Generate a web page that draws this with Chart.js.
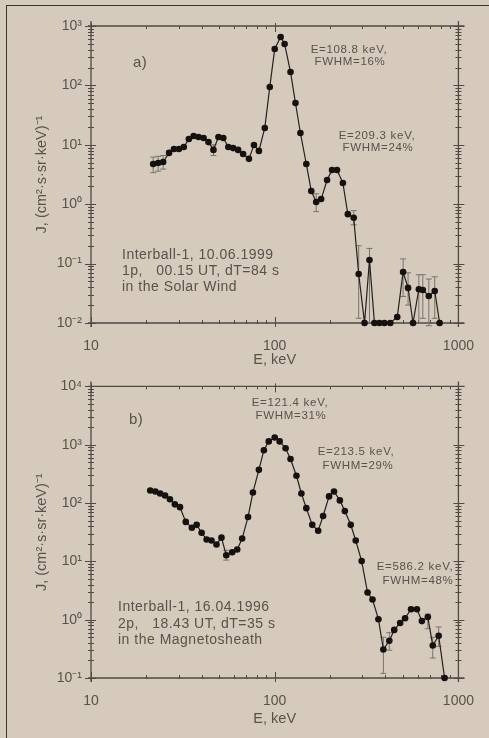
<!DOCTYPE html>
<html><head><meta charset="utf-8">
<script src="https://cdn.jsdelivr.net/npm/chart.js@4"></script>
<style>
html,body{margin:0;padding:0;background:#d6cabc;}
#wrap{position:relative;width:489px;height:738px;overflow:hidden;background:#d6cabc;}
#frame{position:absolute;left:6px;top:5px;width:600px;height:900px;border-left:1.5px solid #38342f;border-top:1.5px solid #38342f;}
canvas{position:absolute;left:0;}
</style></head><body>
<div id="wrap"><div id="frame"></div>
<canvas id="c1" width="489" height="369" style="top:0"></canvas>
<canvas id="c2" width="489" height="369" style="top:369px"></canvas>
</div>
<script>
// ---- Panel a) data ----
const energyA = [21.8,23.2,24.7,26.6,28.3,30.1,32.0,34.1,36.2,38.5,41.0,43.6,46.4,49.4,52.5,55.9,59.4,63.2,67.3,72.4,77.1,82.0,88.3,94.0,100,107.7,113.2,121.9,129.7,138.0,148.6,158.1,168.2,179.0,192.8,205.1,218.3,235.1,250.1,269.2,286.4,308.3,328.0,349.0,371.3,395.3,425.6,464.5,500,532,566,609,640,690,743,790];
const fluxA = [4.75,4.94,5.13,7.3,8.5,8.5,9.2,12.5,14.1,13.5,13.0,11.1,8.2,13.5,13.0,9.2,8.8,8.2,7.0,5.8,9.9,7.9,19.2,94,410,653,498,168,50.6,15.8,4.75,1.67,1.09,1.22,2.55,3.77,3.77,2.27,0.68,0.59,0.067,0.01,0.115,0.01,0.01,0.01,0.01,0.0126,0.072,0.039,0.01,0.037,0.036,0.0285,0.0346,0.01];
const errIdxA = [0,1,2,12,32,39,40,42,48,49,51,52,53,54];
const errLoA = [3.4,3.6,3.9,6.6,0.75,0.45,0.012,0.01,0.028,0.02,0.01,0.012,0.009,0.012];
const errHiA = [6.2,6.4,6.6,10,1.5,0.78,0.2,0.18,0.12,0.07,0.065,0.065,0.055,0.06];

// ---- Panel b) data ----
const energyB = [21.0,22.4,23.8,25.3,26.9,28.6,30.5,32.8,35.4,37.6,40.0,42.6,45.3,48.2,51.3,54.5,58.7,62.5,66.5,71.6,76.1,82.0,87.3,92.8,100,106.4,114.6,121.9,131.3,139.7,148.6,160.1,172.4,183.4,197.6,210.2,226.3,240.8,259.4,276.0,297.3,320.2,340.7,366.9,390.3,420.5,447.3,481.7,512.5,552.1,594.6,632.6,681.4,724.9,780.6,840.8];
const fluxB = [164,158,146,135,116,95,85,47.5,37.7,42.3,31.0,23.7,22.8,19.5,25.5,12.7,14.3,16.0,24.6,57.7,152,371,805,1140,1333,1140,869,568,294,146,81.7,42.3,33.5,60,130,158,111,72.8,42.3,22.8,10.1,2.92,2.22,1.02,0.308,0.436,0.668,0.877,1.06,1.51,1.51,0.946,1.11,0.36,0.53,0.1];
const errIdxB = [15,44,45,52,53,54];
const errLoB = [10.5,0.12,0.3,0.7,0.22,0.35];
const errHiB = [15.5,0.5,0.6,1.25,0.5,0.75];

// ---- axis / labels ----
const xRange = [10, 1000];
const yRangeA = [0.01, 1000];
const yRangeB = [0.1, 10000];
const xTitle = 'E, keV';
const yTitle = 'J, (cm²·s·sr·keV)⁻¹';
const notesA = [
  {t:'a)', x:133, y:63, size:15, align:'left'},
  {t:'E=108.8 keV,', x:349, y:50, size:11.5, align:'center'},
  {t:'FWHM=16%', x:350, y:62, size:11.5, align:'center'},
  {t:'E=209.3 keV,', x:377, y:136, size:11.5, align:'center'},
  {t:'FWHM=24%', x:378, y:148, size:11.5, align:'center'},
  {t:'Interball-1, 10.06.1999', x:122, y:255, size:14, align:'left'},
  {t:'1p,   00.15 UT, dT=84 s', x:122, y:271, size:14, align:'left'},
  {t:'in the Solar Wind', x:122, y:287, size:14, align:'left'}
];
const notesB = [
  {t:'b)', x:129, y:51, size:15, align:'left'},
  {t:'E=121.4 keV,', x:290, y:34, size:11.5, align:'center'},
  {t:'FWHM=31%', x:291, y:47, size:11.5, align:'center'},
  {t:'E=213.5 keV,', x:356, y:83, size:11.5, align:'center'},
  {t:'FWHM=29%', x:358, y:97, size:11.5, align:'center'},
  {t:'E=586.2 keV,', x:415, y:198, size:11.5, align:'center'},
  {t:'FWHM=48%', x:418, y:212, size:11.5, align:'center'},
  {t:'Interball-1, 16.04.1996', x:118, y:238, size:14, align:'left'},
  {t:'2p,   18.43 UT, dT=35 s', x:118, y:255, size:14, align:'left'},
  {t:'in the Magnetosheath', x:118, y:271, size:14, align:'left'}
];

const TXT = '#58524c';
const AXC = '#4f4a45';
const FONT = '"Liberation Sans", Arial, sans-serif';
const SUP = {'-':'⁻','0':'⁰','1':'¹','2':'²','3':'³','4':'⁴','5':'⁵','6':'⁶','7':'⁷','8':'⁸','9':'⁹'};

function isPow10(v){ const l = Math.log10(v); return Math.abs(l - Math.round(l)) < 1e-9; }
function pow10Label(v){ const e = String(Math.round(Math.log10(v))); return '10' + e.split('').map(c=>SUP[c]).join(''); }
function logTicks(min, max){
  const out = [];
  const e0 = Math.round(Math.log10(min)), e1 = Math.round(Math.log10(max));
  for (let e = e0; e < e1; e++) for (let k = 1; k <= 9; k++) out.push(parseFloat((k*Math.pow(10,e)).toPrecision(6)));
  out.push(max);
  return out;
}

function framePlugin(errIdx, errLo, errHi, energies){
  return {
    id:'frame',
    beforeDatasetsDraw(chart){
      const {ctx, chartArea:a, scales:{x, y}} = chart;
      ctx.save();
      ctx.strokeStyle = AXC; ctx.lineWidth = 1.3;
      ctx.beginPath();
      ctx.moveTo(a.left-3, a.top); ctx.lineTo(a.right+6, a.top);
      ctx.moveTo(a.left-3, a.bottom); ctx.lineTo(a.right+6, a.bottom);
      ctx.moveTo(a.left, a.top-5); ctx.lineTo(a.left, a.bottom+4);
      ctx.moveTo(a.right, a.top-5); ctx.lineTo(a.right, a.bottom+4);
      ctx.stroke();
      ctx.lineWidth = 1;
      ctx.beginPath();
      x.ticks.forEach(t => {
        const p = Math.round(x.getPixelForValue(t.value)) + 0.5;
        const maj = isPow10(t.value);
        const L = maj ? 6 : 3;
        ctx.moveTo(p, a.bottom - L); ctx.lineTo(p, a.bottom + (maj ? 4 : 1));
        ctx.moveTo(p, a.top - (maj ? 3 : 0)); ctx.lineTo(p, a.top + L);
      });
      y.ticks.forEach(t => {
        const p = Math.round(y.getPixelForValue(t.value)) + 0.5;
        const maj = isPow10(t.value);
        const Lo = maj ? 6 : 3, Li = maj ? 5 : 3;
        ctx.moveTo(a.left - Lo, p); ctx.lineTo(a.left + Li, p);
        ctx.moveTo(a.right - Li, p); ctx.lineTo(a.right + Lo, p);
      });
      ctx.stroke();
      // error bars
      ctx.strokeStyle = '#7a736c'; ctx.lineWidth = 1;
      ctx.beginPath();
      errIdx.forEach((i, k) => {
        const px = x.getPixelForValue(energies[i]);
        const y1 = y.getPixelForValue(errLo[k]), y2 = y.getPixelForValue(errHi[k]);
        ctx.moveTo(px, y1); ctx.lineTo(px, y2);
        ctx.moveTo(px-3, y1); ctx.lineTo(px+3, y1);
        ctx.moveTo(px-3, y2); ctx.lineTo(px+3, y2);
      });
      ctx.stroke();
      ctx.restore();
    }
  };
}
function notesPlugin(notes){
  return {
    id:'notes',
    afterDraw(chart){
      const ctx = chart.ctx;
      ctx.save();
      ctx.fillStyle = TXT;
      ctx.textBaseline = 'middle';
      notes.forEach(n => {
        ctx.font = n.size + 'px ' + FONT;
        ctx.textAlign = n.align;
        if ('letterSpacing' in ctx) ctx.letterSpacing = n.size < 13 ? '0.7px' : '0.5px';
        ctx.fillText(n.t, n.x, n.y);
      });
      ctx.restore();
    }
  };
}

function makeChart(id, energies, flux, yRange, padTop, xAxisH, xTitlePadB, errIdx, errLo, errHi, notes){
  const pts = energies.map((e, i) => ({x: e, y: flux[i]}));
  return new Chart(document.getElementById(id), {
    type:'scatter',
    data:{datasets:[{
      data: pts, showLine:true, borderColor:'#24201d', borderWidth:1.2,
      pointRadius:3.3, pointBackgroundColor:'#14110f', pointBorderColor:'#14110f', pointBorderWidth:0,
      clip:false, tension:0
    }]},
    options:{
      responsive:false, animation:false, devicePixelRatio:1,
      layout:{padding:{left:30, right:26, top:padTop, bottom:0}},
      plugins:{legend:{display:false}, tooltip:{enabled:false}},
      scales:{
        x:{
          type:'logarithmic', min:xRange[0], max:xRange[1],
          afterFit(s){ s.height = xAxisH; },
          afterBuildTicks(s){ s.ticks = logTicks(xRange[0], xRange[1]).map(v => ({value:v})); },
          grid:{display:false, drawTicks:false}, border:{display:false},
          ticks:{autoSkip:false, maxRotation:0, minRotation:0, padding:15, color:TXT,
            font:{family:FONT, size:14},
            callback:(v) => isPow10(v) ? String(Math.round(v)) : ''},
          title:{display:true, text:xTitle, color:TXT, font:{family:FONT, size:14.5}, padding:{top:0, bottom:xTitlePadB}}
        },
        y:{
          type:'logarithmic', min:yRange[0], max:yRange[1],
          afterFit(s){ s.width = 61; },
          afterBuildTicks(s){ s.ticks = logTicks(yRange[0], yRange[1]).map(v => ({value:v})); },
          grid:{display:false, drawTicks:false}, border:{display:false},
          ticks:{autoSkip:false, padding:9, color:TXT, font:{family:FONT, size:14},
            callback:(v) => isPow10(v) ? pow10Label(v) : ''},
          title:{display:true, text:yTitle, color:TXT, font:{family:FONT, size:14.5}, padding:{top:3, bottom:0}}
        }
      }
    },
    plugins:[framePlugin(errIdx, errLo, errHi, energies), notesPlugin(notes)]
  });
}

makeChart('c1', energyA, fluxA, yRangeA, 26, 46, 0, errIdxA, errLoA, errHiA, notesA);
makeChart('c2', energyB, fluxB, yRangeB, 12, 60, 10, errIdxB, errLoB, errHiB, notesB);
</script>
</body></html>
